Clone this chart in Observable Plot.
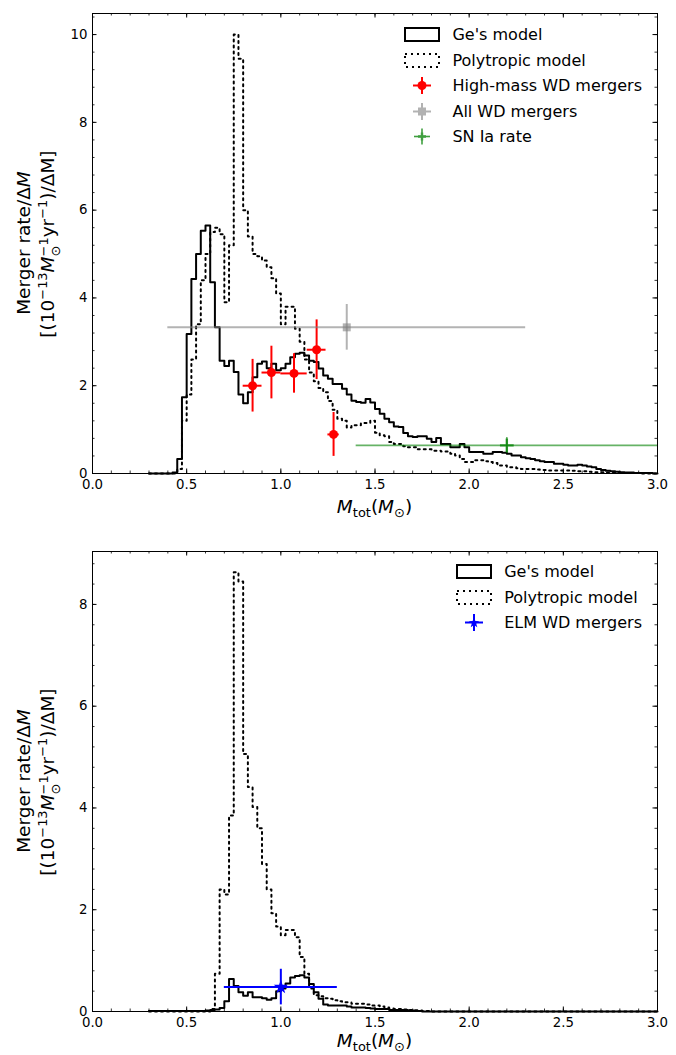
<!DOCTYPE html>
<html>
<head>
<meta charset="utf-8">
<script src="https://cdn.jsdelivr.net/npm/d3@7"></script>
<script src="https://cdn.jsdelivr.net/npm/@observablehq/plot@0.6"></script>
<style>
  html, body { margin: 0; padding: 0; background: #fff; }
  body { font-family: "DejaVu Sans", sans-serif; color: #000; }
  #wrap { position: relative; width: 676px; height: 1055px; overflow: hidden; }
  .panel { position: absolute; left: 0; }
  .xlab { position: absolute; width: 400px; text-align: center; font-size: 18.5px; line-height: 24px; white-space: nowrap; }
  .ylab { position: absolute; width: 400px; text-align: center; font-size: 18.5px; line-height: 24px; white-space: nowrap; transform: rotate(-90deg); transform-origin: 50% 50%; }
  sup, sub { font-size: 0.7em; line-height: 0; }
  sup { vertical-align: 0.55em; }
  sub { vertical-align: -0.3em; }
  .ss { display: inline-block; font-size: 0.7em; line-height: 0.95; vertical-align: -0.45em; text-align: left; }
  .ss span { display: block; }
  .legend { position: absolute; font-size: 16px; }
  .legend .row { display: flex; align-items: center; height: 25.5px; }
  .legend svg { flex: none; margin-right: 12px; }
  .legend span { white-space: nowrap; }
</style>
</head>
<body>
<div id="wrap">
  <div id="top" class="panel" style="top:0"></div>
  <div id="bot" class="panel" style="top:530px"></div>

  <div class="ylab" style="left:-176px; top:231px">Merger rate/Δ<i>M</i></div>
  <div class="ylab" style="left:-151px; top:231px">[(10<sup>−13</sup><i>M</i><span class="ss"><span>−1</span><span>⊙</span></span>yr<sup>−1</sup>)/ΔM]</div>
  <div class="xlab" style="left:174.5px; top:495px"><i>M</i><sub>tot</sub>(<i>M</i><sub>⊙</sub>)</div>

  <div class="ylab" style="left:-176px; top:769px">Merger rate/Δ<i>M</i></div>
  <div class="ylab" style="left:-151px; top:769px">[(10<sup>−13</sup><i>M</i><span class="ss"><span>−1</span><span>⊙</span></span>yr<sup>−1</sup>)/ΔM]</div>
  <div class="xlab" style="left:174.5px; top:1029px"><i>M</i><sub>tot</sub>(<i>M</i><sub>⊙</sub>)</div>

  <div class="legend" style="right:34px; top:22px">
    <div class="row"><svg width="36" height="25"><rect x="1" y="6" width="34" height="13" fill="none" stroke="#000" stroke-width="2"/></svg><span>Ge's model</span></div>
    <div class="row"><svg width="36" height="25"><rect x="1" y="6" width="34" height="13" fill="none" stroke="#000" stroke-width="2" stroke-dasharray="2,4"/></svg><span>Polytropic model</span></div>
    <div class="row"><svg width="36" height="25"><line x1="9" x2="27" y1="12.5" y2="12.5" stroke="red" stroke-width="2"/><line x1="18" x2="18" y1="4" y2="21" stroke="red" stroke-width="2"/><circle cx="18" cy="12.5" r="4.5" fill="red"/></svg><span>High-mass WD mergers</span></div>
    <div class="row"><svg width="36" height="25"><g opacity="0.6"><line x1="9" x2="27" y1="12.5" y2="12.5" stroke="#808080" stroke-width="2"/><line x1="18" x2="18" y1="4" y2="21" stroke="#808080" stroke-width="2"/><rect x="14" y="8.5" width="8" height="8" fill="#808080"/></g></svg><span>All WD mergers</span></div>
    <div class="row"><svg width="36" height="25"><g opacity="0.75"><line x1="10" x2="26" y1="12.5" y2="12.5" stroke="green" stroke-width="1.6"/><line x1="18" x2="18" y1="4.5" y2="20.5" stroke="green" stroke-width="1.6"/><path d="M14,12.5H22M18,8.5V16.5" stroke="green" stroke-width="2.4"/></g></svg><span>SN Ia rate</span></div>
  </div>

  <div class="legend" style="right:34px; top:559px">
    <div class="row"><svg width="36" height="25"><rect x="1" y="6" width="34" height="13" fill="none" stroke="#000" stroke-width="2"/></svg><span>Ge's model</span></div>
    <div class="row"><svg width="36" height="25"><rect x="1" y="6" width="34" height="13" fill="none" stroke="#000" stroke-width="2" stroke-dasharray="2,4"/></svg><span>Polytropic model</span></div>
    <div class="row"><svg width="36" height="25"><line x1="9" x2="27" y1="12.5" y2="12.5" stroke="blue" stroke-width="2"/><line x1="18" x2="18" y1="4" y2="21" stroke="blue" stroke-width="2"/><path d="M18,7.5L19.4,11.1L23.2,11.2L20.2,13.6L21.3,17.3L18,15.1L14.7,17.3L15.8,13.6L12.8,11.2L16.6,11.1Z" fill="blue"/></svg><span>ELM WD mergers</span></div>
  </div>
</div>

<script>
// ---------- DATA ----------
const binStart = 0.3;
const binWidth = 0.025;

// Top panel: Ge's model (rate / dM per 0.025 bin, starting at 0.300)
const geTop = [
  0, 0, 0, 0, 0, 0.02, 0.33, 1.74, 3.18, 4.43,
  5.0, 5.53, 5.65, 4.36, 3.33, 2.57, 2.45, 2.57, 2.31, 1.8,
  1.6, 1.85, 2.19, 2.5, 2.55, 2.4, 2.5, 2.35, 2.4, 2.5,
  2.65, 2.73, 2.75, 2.69, 2.57, 2.54, 2.39, 2.23, 2.16, 2.04,
  2.04, 1.93, 1.8, 1.66, 1.63, 1.61, 1.7, 1.62, 1.47, 1.36,
  1.25, 1.17, 1.07, 1.06, 0.92, 0.85, 0.83, 0.85, 0.85, 0.79,
  0.72, 0.81, 0.67, 0.67, 0.6, 0.6, 0.67, 0.6, 0.49, 0.49,
  0.49, 0.45, 0.45, 0.49, 0.49, 0.47, 0.45, 0.41, 0.41, 0.37,
  0.35, 0.33, 0.3, 0.28, 0.26, 0.26, 0.22, 0.22, 0.2, 0.18,
  0.18, 0.2, 0.18, 0.16, 0.14, 0.1, 0.08, 0.06, 0.05, 0.04,
  0.03, 0.02, 0.02, 0.01, 0.01, 0.01, 0.01, 0
];
// Top panel: Polytropic model
const polyTop = [
  0, 0, 0, 0, 0, 0, 0.1, 1.2, 1.8, 2.6,
  3.4, 4.4, 5.0, 5.5, 5.6, 5.45, 3.9, 5.2, 10.0, 9.45,
  6.0, 5.4, 5.0, 4.95, 4.85, 4.7, 4.45, 4.1, 3.4, 3.8,
  3.8, 3.3, 3.0, 2.6, 2.3, 2.1, 1.95, 1.85, 1.65, 1.45,
  1.25, 1.2, 1.05, 1.1, 1.1, 1.15, 1.15, 1.2, 0.93, 0.87,
  0.85, 0.72, 0.67, 0.67, 0.62, 0.6, 0.6, 0.55, 0.55, 0.55,
  0.52, 0.52, 0.5, 0.5, 0.45, 0.41, 0.33, 0.26, 0.26, 0.3,
  0.3, 0.28, 0.26, 0.24, 0.18, 0.18, 0.14, 0.14, 0.12, 0.1,
  0.1, 0.1, 0.09, 0.08, 0.08, 0.07, 0.07, 0.07, 0.07, 0.07,
  0.06, 0.05, 0.05, 0.04, 0.03, 0.03, 0.03, 0.02, 0.02, 0.01,
  0.01, 0.01, 0.01, 0.01, 0, 0, 0, 0
];
// Bottom panel: Ge's model
const geBot = [
  0.01, 0.01, 0.01, 0.01, 0.01, 0.01, 0.01, 0.01, 0.01, 0.01,
  0.01, 0.01, 0.02, 0.03, 0.04, 0.07, 0.2, 0.64, 0.5, 0.38,
  0.31, 0.38, 0.28, 0.28, 0.26, 0.23, 0.26, 0.4, 0.45, 0.55,
  0.67, 0.7, 0.71, 0.67, 0.54, 0.38, 0.25, 0.14, 0.12, 0.12,
  0.12, 0.12, 0.1, 0.08, 0.08, 0.08, 0.07, 0.06, 0.05, 0.05,
  0.05, 0.03, 0.03, 0.03, 0.03, 0.02, 0.02, 0.01, 0, 0,
  0, 0, 0, 0, 0, 0, 0, 0, 0, 0,
  0, 0, 0, 0, 0, 0, 0, 0, 0, 0,
  0, 0, 0, 0, 0, 0, 0, 0, 0, 0,
  0, 0, 0, 0, 0, 0, 0, 0, 0, 0,
  0, 0, 0, 0, 0, 0, 0, 0
];
// Bottom panel: Polytropic model
const polyBot = [
  0, 0, 0, 0, 0, 0, 0, 0, 0, 0,
  0, 0, 0, 0.05, 0.74, 2.4, 2.3, 3.85, 8.63, 8.45,
  5.06, 4.41, 4.02, 3.6, 2.9, 2.4, 1.93, 1.67, 1.5, 1.6,
  1.6, 1.46, 1.07, 0.74, 0.45, 0.32, 0.3, 0.26, 0.25, 0.22,
  0.2, 0.18, 0.18, 0.15, 0.15, 0.15, 0.14, 0.12, 0.12, 0.1,
  0.08, 0.06, 0.05, 0.05, 0.04, 0.03, 0.02, 0.02, 0.01, 0.01,
  0, 0, 0, 0, 0, 0, 0, 0, 0, 0,
  0, 0, 0, 0, 0, 0, 0, 0, 0, 0,
  0, 0, 0, 0, 0, 0, 0, 0, 0, 0,
  0, 0, 0, 0, 0, 0, 0, 0, 0, 0,
  0, 0, 0, 0, 0, 0, 0, 0
];

// High-mass WD mergers (red)
const hmX = [0.85, 0.95, 1.07, 1.19, 1.28];
const hmY = [2.0, 2.3, 2.28, 2.82, 0.89];
const hmXerr = [0.05, 0.05, 0.07, 0.05, 0.03];
const hmYerr = [0.6, 0.6, 0.45, 0.68, 0.5];
// All WD mergers (gray)
const allX = [1.35];
const allY = [3.33];
const allXerr = [0.95];
const allYerr = [0.52];
// SN Ia rate (green)
const snX = [2.2];
const snY = [0.64];
const snXerr = [0.8];
const snYerr = [0.18];
// ELM WD mergers (blue)
const elmX = [1.0];
const elmY = [0.48];
const elmXerr = [0.3];
const elmYerr = [0.35];

// ticks
const xMajor = [0, 0.5, 1.0, 1.5, 2.0, 2.5, 3.0];
const yMajorTop = [0, 2, 4, 6, 8, 10];
const yMajorBot = [0, 2, 4, 6, 8];

// ---------- HELPERS ----------
function steps(vals) {
  const pts = vals.map((v, i) => ({x: binStart + i * binWidth, y: v}));
  pts.push({x: binStart + vals.length * binWidth, y: vals[vals.length - 1]});
  return pts;
}
function pts(xs, ys, xe, ye) {
  return xs.map((x, i) => ({x, y: ys[i], xe: xe[i], ye: ye[i]}));
}
function errMarks(data, stroke, sw, opacity) {
  return [
    Plot.ruleY(data, {y: "y", x1: d => d.x - d.xe, x2: d => d.x + d.xe, stroke, strokeWidth: sw, strokeOpacity: opacity}),
    Plot.ruleX(data, {x: "x", y1: d => d.y - d.ye, y2: d => d.y + d.ye, stroke, strokeWidth: sw, strokeOpacity: opacity})
  ];
}
const xMinor = d3.range(0, 30.5, 1).map(d => d / 10);

function panel({ge, poly, ymax, yMajor, extra, height, marginTop, marginBottom}) {
  const W = 676, ml = 92, mr = 19;
  const ph = height - marginTop - marginBottom;
  const pw = W - ml - mr;
  const yMinor = d3.range(0, Math.floor(ymax / 0.4 + 1e-9) + 1).map(d => d * 0.4);
  const MJ = 4.5, MN = 2.5;
  return Plot.plot({
    width: W, height, marginLeft: ml, marginRight: mr, marginTop, marginBottom,
    x: {domain: [0, 3]},
    y: {domain: [0, ymax]},
    style: {fontFamily: "DejaVu Sans, sans-serif", fontSize: "13.3px", color: "#000", background: "#fff", overflow: "visible"},
    marks: [
      Plot.line(steps(ge), {x: "x", y: "y", curve: "step-after", stroke: "#000", strokeWidth: 2}),
      Plot.line(steps(poly), {x: "x", y: "y", curve: "step-after", stroke: "#000", strokeWidth: 2, strokeDasharray: "2,4"}),
      ...extra,
      // inward ticks: bottom / top
      Plot.ruleX(xMinor, {x: d => d, insetTop: ph - MN, stroke: "#000", strokeWidth: 0.8}),
      Plot.ruleX(xMinor, {x: d => d, insetBottom: ph - MN, stroke: "#000", strokeWidth: 0.8}),
      Plot.ruleX(xMajor, {x: d => d, insetTop: ph - MJ, stroke: "#000", strokeWidth: 1}),
      Plot.ruleX(xMajor, {x: d => d, insetBottom: ph - MJ, stroke: "#000", strokeWidth: 1}),
      // inward ticks: left / right
      Plot.ruleY(yMinor, {y: d => d, insetRight: pw - MN, stroke: "#000", strokeWidth: 0.8}),
      Plot.ruleY(yMinor, {y: d => d, insetLeft: pw - MN, stroke: "#000", strokeWidth: 0.8}),
      Plot.ruleY(yMajor, {y: d => d, insetRight: pw - MJ, stroke: "#000", strokeWidth: 1}),
      Plot.ruleY(yMajor, {y: d => d, insetLeft: pw - MJ, stroke: "#000", strokeWidth: 1}),
      Plot.axisX({ticks: xMajor, tickSize: 0, tickPadding: 6, tickFormat: d3.format(".1f"), label: null}),
      Plot.axisY({ticks: yMajor, tickSize: 0, tickPadding: 5, tickFormat: d => String(d), label: null}),
      Plot.frame({stroke: "#000", strokeWidth: 1})
    ]
  });
}

const hm = pts(hmX, hmY, hmXerr, hmYerr);
const all = pts(allX, allY, allXerr, allYerr);
const sn = pts(snX, snY, snXerr, snYerr);
const elm = pts(elmX, elmY, elmXerr, elmYerr);

const topExtra = [
  ...errMarks(hm, "red", 2, 1),
  Plot.dot(hm, {x: "x", y: "y", r: 4.5, fill: "red", stroke: null}),
  ...errMarks(all, "#808080", 2, 0.6),
  Plot.dot(all, {x: "x", y: "y", symbol: "square", r: 4.5, fill: "#808080", fillOpacity: 0.6, stroke: null}),
  ...errMarks(sn, "green", 1.6, 0.6),
  Plot.dot(sn, {x: "x", y: "y", symbol: "plus", r: 4.5, stroke: "green", strokeOpacity: 0.75, strokeWidth: 2.4, fill: null})
];
const botExtra = [
  ...errMarks(elm, "blue", 2, 1),
  Plot.dot(elm, {x: "x", y: "y", symbol: "star", r: 4.5, fill: "blue", stroke: null})
];

document.getElementById("top").appendChild(panel({
  ge: geTop, poly: polyTop, ymax: 10.48, yMajor: yMajorTop, extra: topExtra,
  height: 530, marginTop: 13, marginBottom: 57
}));
document.getElementById("bot").appendChild(panel({
  ge: geBot, poly: polyBot, ymax: 9.04, yMajor: yMajorBot, extra: botExtra,
  height: 525, marginTop: 21, marginBottom: 44
}));
</script>
</body>
</html>
